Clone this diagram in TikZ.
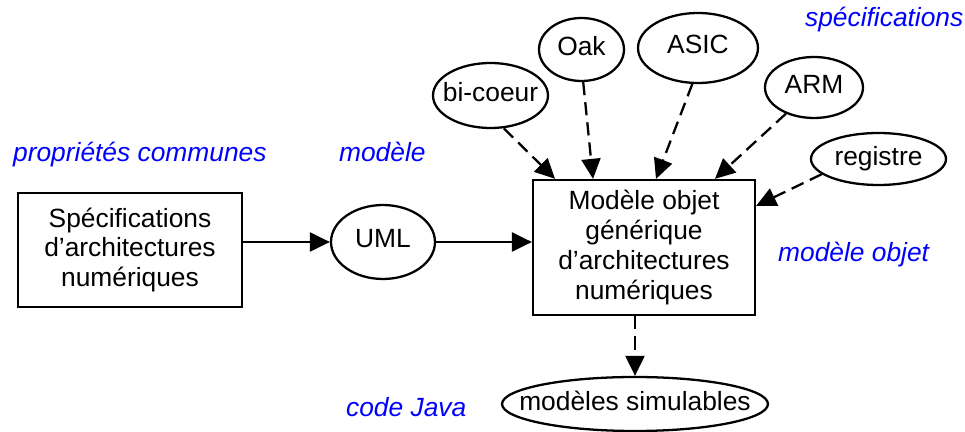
\documentclass[tikz,border=0pt]{standalone}
\usepackage{fontspec}
\setmainfont{Liberation Sans}
\usetikzlibrary{shapes.geometric, arrows.meta}

\begin{document}
\begin{tikzpicture}[x=0.02cm, y=-0.02cm, line width=1.3pt, >={Triangle[length=4mm, width=3.8mm]}]
    \tikzstyle{boite}=[draw, rectangle, align=center, inner sep=0pt, font=\fontsize{15}{17}\selectfont];
    \tikzstyle{bulle}=[draw, ellipse, inner sep=0pt, text depth=0.4em, font=\fontsize{15}{17}\selectfont];
    \tikzstyle{etiquette}=[text=blue, anchor=base west, inner sep=0pt, font=\fontsize{15}{17}\selectfont\itshape];
    \tikzstyle{pointille}=[dash pattern=on 7.5pt off 4pt];

    \useasboundingbox (0,0) rectangle (965,432);

    % chaine principale
    \node[boite, minimum width=4.48cm, minimum height=2.28cm] (specs) at (130,250) {Spécifications\\d’architectures\\numériques};
    \node[bulle, minimum width=2.08cm, minimum height=1.48cm] (uml) at (383,242) {UML};
    \node[boite, minimum width=4.44cm, minimum height=2.7cm] (modele) at (644,247.5) {Modèle objet\\générique\\d’architectures\\numériques};
    \node[bulle, inner xsep=-12.5pt, minimum width=5.32cm, minimum height=1.08cm] (sim) at (635,404) {modèles simulables};

    % architectures cibles
    \node[bulle, inner xsep=-4pt, minimum width=2.3cm, minimum height=1.3cm] (bicoeur) at (490.5,95.5) {bi-coeur};
    \node[bulle, minimum width=1.7cm, minimum height=1.26cm] (oak) at (581.5,49.5) {Oak};
    \node[bulle, minimum width=2.4cm, minimum height=1.4cm] (asic) at (698,48) {ASIC};
    \node[bulle, minimum width=1.96cm, minimum height=1.22cm] (arm) at (814,87.5) {ARM};
    \node[bulle, minimum width=2.7cm, minimum height=1.04cm] (registre) at (878.5,159) {registre};

    % legendes
    \node[etiquette] (lspecs) at (804,27) {spécifications};
    \node[etiquette] (lproprietes) at (12,162) {propriétés communes};
    \node[etiquette] (lmodele) at (338,162) {modèle};
    \node[etiquette] (lobjet) at (777,262) {modèle objet};
    \node[etiquette] (ljava) at (345,417) {code Java};

    \path[->]
    (uml.west -| specs.east) edge (uml.west)
    (uml.east) edge (uml.east -| modele.west);

    \path[->, pointille]
    (bicoeur.292) edge ([xshift=-1.78cm]modele.north)
    (oak.273) edge ([xshift=-1.02cm]modele.north)
    (asic.261) edge ([xshift=0.24cm]modele.north)
    (arm.223) edge ([xshift=1.42cm]modele.north)
    (registre.195) edge ([yshift=-0.54cm]modele.north east)
    (modele.south -| sim.north) edge (sim.north);
  \end{tikzpicture}
\end{document}
